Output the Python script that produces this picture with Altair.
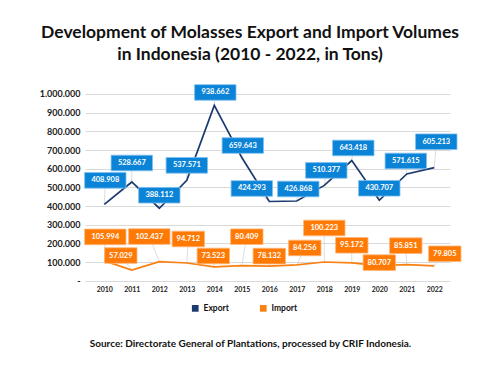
import altair as alt
import pandas as pd

years = list(range(2010, 2023))
export_vals = [408908, 528667, 388112, 537571, 938662, 659643, 424293,
               426868, 510377, 643418, 430707, 571615, 605213]
import_vals = [105994, 57029, 102437, 94712, 73523, 80409, 78132,
               84256, 100223, 95172, 80707, 85851, 79805]
series_names = ["Export", "Import"]
y_ticks = [0, 100000, 200000, 300000, 400000, 500000, 600000, 700000,
           800000, 900000, 1000000]

# manual placement of the data-label boxes (pixel offsets from each point)
export_dx = [1, 0, 0, 0, 1, 1, -17.5, 1.5, 2, 1.5, 0, -1, 2]
export_dy = [-24, -19, -13, -15, -13, -12, -13, -12, -15, -12.6, -12, -13, -26]
import_dx = [1, -11, -10, 1.5, -1, 5, 0, 8, 0, 0, 0, -1, 10.5]
import_dy = [-24, -14.5, -25, -24, -11, -29, -10, -17, -34, -17.6, -3, -19, -12]

W, H = 365, 186.7
X0, X1 = 2009.298, 2022.571
PX_YEAR = W / (X1 - X0)
PX_UNIT = H / 1000000

FONT = "Lato"
LINE_COLORS = ["#1B3A70", "#F98012"]
SOURCE = "Source: Directorate General of Plantations, processed by CRIF Indonesia."


def fmt(v):
    return f"{v:,}".replace(",", ".")


rows = []
for s, vals, dxs, dys in [("Export", export_vals, export_dx, export_dy),
                          ("Import", import_vals, import_dx, import_dy)]:
    for yr, v, dx, dy in zip(years, vals, dxs, dys):
        txt = fmt(v)
        rows.append({
            "year": yr, "value": v, "series": s, "label": txt,
            "lyear": yr + dx / PX_YEAR, "lvalue": v - dy / PX_UNIT,
            "shape": "w7" if len(txt) >= 7 else "w6",
        })
df = pd.DataFrame(rows)

xscale = alt.Scale(domain=[X0, X1], nice=False, zero=False)
yscale = alt.Scale(domain=[0, 1000000], nice=False)

x_ax = alt.Axis(
    values=years, format="d", grid=False, domain=False, ticks=False,
    labelOverlap=False, title=SOURCE,
    labelFont=FONT, labelFontSize=7, labelFontWeight="bold", labelColor="#222222",
    labelPadding=5,
    titleFont=FONT, titleFontSize=10, titleFontWeight="bold", titleColor="#111111",
    titleX=165, titleY=63, titleAlign="center", titleBaseline="middle")
y_ax = alt.Axis(
    values=y_ticks, grid=True, gridColor="#d9d9d9", gridWidth=1,
    domain=False, ticks=False, title=None, labelOverlap=False,
    labelFont=FONT, labelFontSize=9, labelFontWeight="bold", labelColor="#222222",
    labelPadding=5,
    labelExpr="datum.value == 0 ? '-' : replace(format(datum.value, ','), regexp(',', 'g'), '.')")


def X(field):
    return alt.X(field, scale=xscale, axis=x_ax, title=SOURCE)


def Y(field):
    return alt.Y(field, scale=yscale, axis=y_ax, title=None)


base = alt.Chart(df)


def line(series, color):
    return base.transform_filter(alt.datum.series == series).mark_line(
        strokeWidth=1.7, color=color).encode(x=X("year:Q"), y=Y("value:Q"))


leaders = base.mark_rule(color="#cfcfcf", strokeWidth=0.7).encode(
    x=X("year:Q"), y=Y("value:Q"), x2="lyear:Q", y2="lvalue:Q")

# zero-size square points that carry the legend
legend_pts = base.mark_point(filled=True, shape="square", size=0, opacity=1).encode(
    x=X("year:Q"), y=Y("value:Q"),
    color=alt.Color("series:N", scale=alt.Scale(domain=series_names,
                                                range=LINE_COLORS),
                    legend=alt.Legend(title=None, orient="none", direction="horizontal",
                                      legendX=106, legendY=210,
                                      symbolType="square", symbolSize=45,
                                      symbolStrokeWidth=0, symbolOpacity=1,
                                      labelFont=FONT, labelFontSize=8.5,
                                      labelFontWeight="bold", labelColor="#111111",
                                      labelOffset=4, columnPadding=30)))

shape_scale = alt.Scale(domain=["w6", "w7"],
                        range=["M-1.62,-0.78H1.62V0.78H-1.62Z",
                               "M-2.07,-0.78H2.07V0.78H-2.07Z"])


def boxes(series, fill, stroke):
    return base.transform_filter(alt.datum.series == series).mark_point(
        filled=True, fill=fill, stroke=stroke, strokeWidth=0.8, size=400, opacity=1
    ).encode(x=X("lyear:Q"), y=Y("lvalue:Q"),
             shape=alt.Shape("shape:N", scale=shape_scale, legend=None))


texts = base.mark_text(color="white", font=FONT, fontSize=7.5, fontWeight="bold",
                       baseline="middle", align="center").encode(
    x=X("lyear:Q"), y=Y("lvalue:Q"), text="label:N")

chart = alt.layer(
    leaders,
    line("Export", LINE_COLORS[0]),
    line("Import", LINE_COLORS[1]),
    legend_pts,
    boxes("Export", "#0B84D8", "#7CC0F0"),
    boxes("Import", "#FF7A05", "#FFB57A"),
    texts,
).properties(
    width=W, height=H,
    title=alt.TitleParams(
        text=["Development of Molasses Export and Import Volumes",
              "in Indonesia (2010 - 2022, in Tons)"],
        font=FONT, fontSize=17.5, fontWeight="bold", color="#111111",
        anchor="middle", dx=-17.5, offset=20, lineHeight=22),
    autosize=alt.AutoSizeParams(type="none"),
    padding={"left": 77, "top": 86, "right": 42, "bottom": 91},
    background="white",
).configure_view(stroke=None)

chart.save("out.html", embed_options={"renderer": "svg", "actions": False})
